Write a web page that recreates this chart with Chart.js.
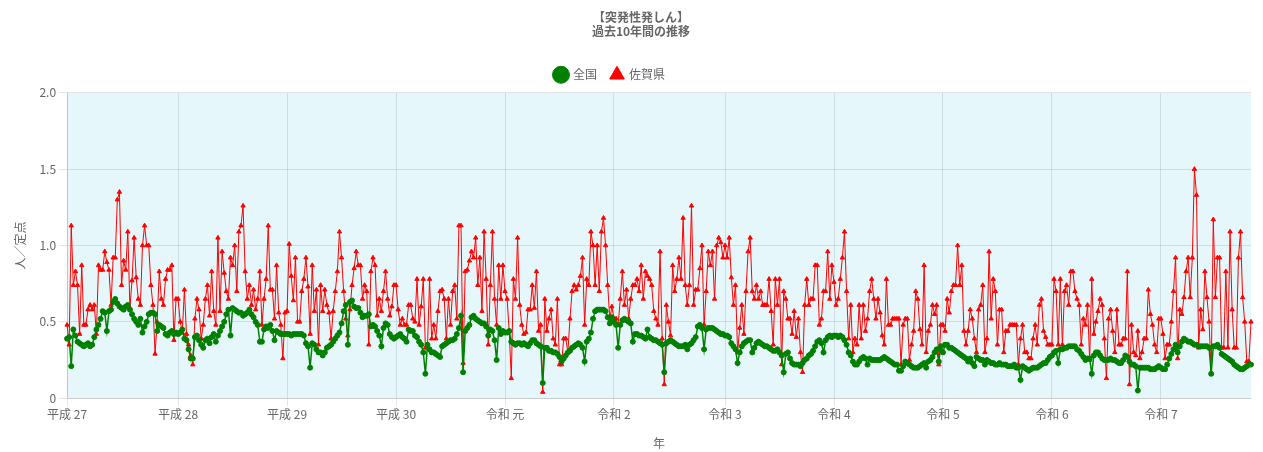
<!DOCTYPE html>
<html lang="ja">
<head>
<meta charset="utf-8">
<title>突発性発しん 過去10年間の推移</title>
<script src="https://cdn.jsdelivr.net/npm/chart.js@4.4.1/dist/chart.umd.min.js"></script>
<style>
  html, body { margin: 0; padding: 0; background: #fff; }
  #wrap { width: 1263px; height: 452px; position: relative; }
</style>
</head>
<body>
<div id="wrap"><canvas id="chart"></canvas></div>
<script>
// 年（x軸の目盛り）と各年の週数
const yearLabels = ['平成 27', '平成 28', '平成 29', '平成 30', '令和 元', '令和 2', '令和 3', '令和 4', '令和 5', '令和 6', '令和 7'];
const weeksPerYear = [53, 52, 52, 52, 52, 53, 52, 52, 52, 52, 44];
const yTicks = [0, 0.5, 1.0, 1.5, 2.0];

// 全国（定点当たり報告数）年ごと
const zenkokuByYear = [
  [0.39,0.40,0.21,0.45,0.41,0.37,0.36,0.35,0.34,0.35,0.36,0.34,0.35,0.40,0.45,0.48,0.52,0.57,0.56,0.44,0.57,0.58,0.63,0.65,0.62,0.60,0.59,0.58,0.60,0.61,0.58,0.55,0.52,0.50,0.48,0.52,0.43,0.47,0.50,0.55,0.56,0.56,0.55,0.44,0.48,0.47,0.46,0.42,0.41,0.43,0.44,0.42,0.43],
  [0.42,0.43,0.45,0.39,0.38,0.32,0.26,0.26,0.40,0.41,0.38,0.35,0.33,0.38,0.39,0.36,0.40,0.42,0.37,0.41,0.44,0.47,0.50,0.55,0.58,0.41,0.59,0.58,0.57,0.56,0.56,0.54,0.55,0.56,0.58,0.55,0.53,0.50,0.48,0.37,0.37,0.45,0.47,0.46,0.48,0.44,0.38,0.44,0.43,0.42,0.42,0.42],
  [0.42,0.42,0.41,0.42,0.42,0.42,0.42,0.42,0.41,0.36,0.34,0.20,0.36,0.35,0.32,0.30,0.30,0.28,0.30,0.33,0.34,0.35,0.37,0.39,0.41,0.43,0.49,0.57,0.61,0.35,0.63,0.64,0.60,0.59,0.59,0.56,0.53,0.54,0.54,0.55,0.47,0.48,0.47,0.44,0.41,0.34,0.46,0.49,0.48,0.42,0.40,0.39],
  [0.40,0.41,0.42,0.40,0.39,0.37,0.45,0.44,0.44,0.41,0.40,0.37,0.35,0.30,0.16,0.35,0.32,0.30,0.30,0.29,0.28,0.27,0.34,0.35,0.36,0.37,0.38,0.38,0.39,0.42,0.46,0.54,0.17,0.44,0.46,0.48,0.53,0.54,0.52,0.51,0.50,0.49,0.49,0.47,0.41,0.45,0.44,0.38,0.25,0.46,0.42,0.44],
  [0.43,0.43,0.44,0.37,0.36,0.35,0.36,0.36,0.35,0.36,0.35,0.34,0.36,0.38,0.38,0.36,0.35,0.34,0.10,0.33,0.33,0.31,0.31,0.30,0.30,0.29,0.27,0.24,0.26,0.28,0.30,0.31,0.33,0.34,0.35,0.36,0.35,0.33,0.24,0.37,0.39,0.43,0.52,0.57,0.58,0.58,0.58,0.58,0.57,0.53,0.49,0.53],
  [0.50,0.48,0.33,0.48,0.51,0.52,0.51,0.50,0.49,0.37,0.42,0.42,0.41,0.41,0.40,0.39,0.45,0.40,0.39,0.38,0.38,0.37,0.36,0.35,0.17,0.36,0.37,0.38,0.37,0.36,0.35,0.34,0.34,0.34,0.35,0.32,0.35,0.36,0.38,0.40,0.47,0.48,0.46,0.32,0.45,0.46,0.46,0.46,0.45,0.44,0.43,0.42,0.42],
  [0.41,0.41,0.40,0.36,0.34,0.32,0.23,0.30,0.34,0.36,0.37,0.38,0.38,0.30,0.33,0.36,0.37,0.36,0.35,0.34,0.34,0.33,0.32,0.31,0.31,0.32,0.30,0.28,0.17,0.29,0.30,0.26,0.23,0.22,0.22,0.22,0.21,0.23,0.25,0.26,0.28,0.29,0.31,0.34,0.37,0.38,0.36,0.30,0.38,0.40,0.41,0.40],
  [0.41,0.41,0.40,0.41,0.40,0.38,0.35,0.30,0.28,0.24,0.22,0.22,0.24,0.26,0.27,0.26,0.22,0.26,0.25,0.25,0.25,0.25,0.25,0.26,0.27,0.26,0.25,0.24,0.23,0.22,0.22,0.18,0.18,0.21,0.24,0.23,0.22,0.21,0.20,0.20,0.20,0.21,0.22,0.23,0.20,0.24,0.25,0.27,0.30,0.32,0.24,0.34],
  [0.30,0.35,0.35,0.33,0.33,0.32,0.31,0.30,0.29,0.28,0.27,0.26,0.24,0.26,0.23,0.21,0.27,0.26,0.25,0.25,0.22,0.25,0.24,0.23,0.23,0.22,0.22,0.23,0.22,0.22,0.22,0.21,0.21,0.21,0.22,0.20,0.20,0.12,0.21,0.20,0.19,0.18,0.19,0.20,0.20,0.20,0.21,0.22,0.23,0.23,0.25,0.27],
  [0.28,0.30,0.31,0.23,0.32,0.32,0.33,0.33,0.34,0.34,0.34,0.34,0.32,0.31,0.29,0.27,0.25,0.26,0.26,0.16,0.28,0.30,0.30,0.28,0.26,0.25,0.25,0.25,0.26,0.25,0.25,0.24,0.23,0.23,0.25,0.28,0.27,0.24,0.22,0.22,0.21,0.05,0.20,0.20,0.20,0.20,0.20,0.19,0.19,0.19,0.20,0.21],
  [0.20,0.19,0.19,0.22,0.26,0.29,0.32,0.35,0.30,0.34,0.37,0.39,0.38,0.37,0.37,0.36,0.35,0.35,0.34,0.34,0.34,0.34,0.34,0.33,0.16,0.34,0.34,0.35,0.33,0.29,0.28,0.27,0.26,0.25,0.24,0.22,0.21,0.20,0.19,0.19,0.20,0.21,0.22,0.22]
];

// 佐賀県（定点当たり報告数）年ごと
const sagaByYear = [
  [0.48,0.35,1.13,0.74,0.83,0.74,0.42,0.87,0.48,0.48,0.58,0.61,0.58,0.61,0.42,0.87,0.84,0.84,0.96,0.89,0.84,0.61,0.92,0.92,1.30,1.35,0.74,0.90,0.84,1.09,0.59,0.77,1.05,0.79,0.65,0.61,1.00,1.13,1.00,1.00,0.74,0.61,0.29,0.50,0.83,0.65,0.61,0.78,0.84,0.84,0.87,0.38,0.65],
  [0.65,0.50,0.43,0.71,0.42,0.35,0.28,0.22,0.52,0.65,0.58,0.39,0.48,0.65,0.74,0.54,0.83,0.57,0.48,1.05,0.57,0.96,0.82,0.70,0.65,0.92,0.87,1.00,0.70,1.09,1.13,1.26,0.83,0.65,0.74,0.61,0.71,0.58,0.65,0.83,0.48,0.65,0.78,1.13,0.71,0.71,0.52,0.87,0.56,0.48,0.26,0.56],
  [0.57,1.01,0.80,0.64,0.92,0.50,0.50,0.70,0.78,0.92,0.73,0.42,0.87,0.57,0.71,0.35,0.74,0.57,0.71,0.61,0.56,0.39,0.57,0.70,0.83,1.09,0.92,0.70,0.52,0.41,0.58,0.74,0.85,0.96,0.87,0.87,0.65,0.74,0.70,0.35,0.83,0.92,0.87,0.54,0.65,0.57,0.70,0.83,0.65,0.54,0.60,0.74],
  [0.74,0.58,0.48,0.52,0.48,0.48,0.61,0.61,0.52,0.50,0.78,0.48,0.60,0.78,0.33,0.33,0.78,0.39,0.48,0.39,0.57,0.70,0.71,0.65,0.39,0.65,0.48,0.70,0.74,0.52,1.13,1.13,0.23,0.83,0.84,0.90,0.96,0.92,1.05,0.74,0.92,0.57,1.09,0.78,0.35,0.74,1.09,0.65,0.48,0.87,0.65,0.87],
  [0.70,0.65,0.44,0.13,0.78,0.65,1.05,0.61,0.48,0.42,0.43,0.58,0.58,0.74,0.59,0.83,0.44,0.48,0.04,0.65,0.44,0.52,0.58,0.39,0.35,0.65,0.22,0.22,0.39,0.39,0.30,0.52,0.70,0.74,0.71,0.74,0.80,0.92,0.48,0.78,0.74,1.09,1.00,0.74,1.00,0.70,1.09,1.18,1.00,0.74,0.52,0.60],
  [0.52,0.52,0.48,0.65,0.83,0.61,0.71,0.52,0.65,0.74,0.74,0.78,0.70,0.87,0.65,0.83,0.80,0.78,0.74,0.57,0.52,0.48,0.96,0.39,0.09,0.61,0.50,0.41,0.87,0.70,0.78,0.92,0.78,1.18,0.74,0.61,0.74,1.26,0.61,0.71,0.71,0.85,1.00,0.48,0.70,0.96,0.87,0.96,0.65,1.00,1.05,1.02,0.92],
  [1.00,0.92,1.05,0.79,0.61,0.74,0.30,0.46,0.61,0.42,0.70,0.96,1.05,0.70,0.65,0.74,0.65,0.70,0.61,0.61,0.61,0.78,0.57,0.35,0.78,0.61,0.78,0.22,0.70,0.65,0.52,0.52,0.42,0.57,0.40,0.52,0.30,0.17,0.61,0.78,0.61,0.65,0.65,0.87,0.87,0.48,0.52,0.70,0.70,0.96,0.65,0.87],
  [0.76,0.61,0.65,0.78,0.92,1.09,0.70,0.39,0.61,0.30,0.39,0.35,0.61,0.39,0.61,0.44,0.52,0.70,0.78,0.65,0.52,0.65,0.56,0.41,0.35,0.78,0.48,0.48,0.52,0.52,0.52,0.52,0.22,0.48,0.52,0.52,0.25,0.35,0.44,0.70,0.65,0.45,0.35,0.87,0.30,0.44,0.48,0.61,0.55,0.61,0.22,0.48],
  [0.48,0.44,0.65,0.56,0.70,0.74,0.74,1.00,0.74,0.87,0.44,0.35,0.44,0.58,0.52,0.39,0.30,0.58,0.61,0.74,0.30,0.39,0.96,0.52,0.78,0.70,0.35,0.58,0.58,0.30,0.44,0.44,0.48,0.48,0.48,0.48,0.22,0.39,0.48,0.30,0.30,0.26,0.26,0.39,0.48,0.35,0.61,0.65,0.44,0.40,0.35,0.35],
  [0.35,0.78,0.70,0.35,0.78,0.35,0.70,0.74,0.61,0.83,0.83,0.70,0.65,0.61,0.35,0.52,0.48,0.61,0.25,0.78,0.42,0.50,0.57,0.65,0.61,0.39,0.13,0.52,0.58,0.44,0.30,0.58,0.35,0.35,0.39,0.39,0.83,0.09,0.48,0.30,0.28,0.44,0.26,0.30,0.39,0.39,0.71,0.55,0.48,0.35,0.30,0.52],
  [0.52,0.42,0.26,0.35,0.35,0.50,0.70,0.92,0.26,0.58,0.55,0.66,0.83,0.92,0.66,0.92,1.50,1.33,0.33,0.58,0.45,0.83,0.66,0.50,0.16,1.17,0.66,0.92,0.92,0.33,0.33,0.83,0.33,1.09,0.58,0.33,0.33,0.92,1.09,0.66,0.50,0.24,0.24,0.50]
];

const plotBg = '#e6f7fb';
const gridColor = 'rgba(0, 0, 0, 0.1)';

// 週ごとのラベル（年の最初の週だけ目盛りに年を出す）
const labels = [];
const tickText = [];
yearLabels.forEach((y, i) => {
  for (let w = 1; w <= weeksPerYear[i]; w++) {
    labels.push(y + ' 第' + w + '週');
    tickText.push(w === 1 ? y : '');
  }
});
const zenkoku = zenkokuByYear.flat();
const saga = sagaByYear.flat();

const plotBackground = {
  id: 'plotBackground',
  beforeDraw(chart) {
    const { ctx, chartArea } = chart;
    ctx.save();
    ctx.fillStyle = plotBg;
    ctx.fillRect(chartArea.left, chartArea.top, chartArea.right - chartArea.left, chartArea.bottom - chartArea.top);
    ctx.restore();
  }
};

// タイトルと凡例の位置を元の図に合わせる
const headerShift = {
  id: 'headerShift',
  beforeLayout(chart) {
    const legend = chart.legend;
    if (legend && !legend._extraGap) {
      const fit = legend.fit.bind(legend);
      legend.fit = () => { fit(); legend.height += 2; };
      legend._extraGap = true;
    }
  },
  afterLayout(chart) {
    if (chart.titleBlock) { chart.titleBlock.left += 11; chart.titleBlock.right += 11; }
    if (chart.legend) { chart.legend.left -= 20; chart.legend.right -= 20; }
  }
};

Chart.defaults.font.family = "'Noto Sans CJK JP', 'Noto Sans', sans-serif";
Chart.defaults.font.size = 12;
Chart.defaults.color = '#666';

const ctx = document.getElementById('chart').getContext('2d');
new Chart(ctx, {
  type: 'line',
  data: {
    labels,
    datasets: [
      {
        label: '全国',
        data: zenkoku,
        borderColor: 'green',
        backgroundColor: 'green',
        borderWidth: 1.5,
        pointStyle: 'circle',
        pointRadius: 2.5,
        pointBorderWidth: 1,
        tension: 0
      },
      {
        label: '佐賀県',
        data: saga,
        borderColor: 'red',
        backgroundColor: 'red',
        borderWidth: 1,
        pointStyle: 'triangle',
        pointRadius: 2.5,
        pointBorderWidth: 1,
        tension: 0
      }
    ]
  },
  options: {
    responsive: true,
    maintainAspectRatio: false,
    animation: false,
    layout: { padding: { left: 9, right: 12, top: 0, bottom: 0 } },
    plugins: {
      title: {
        display: true,
        text: ['【突発性発しん】', '過去10年間の推移'],
        color: '#666',
        font: { size: 12, weight: 'bold' },
        padding: { top: 10, bottom: 16 }
      },
      legend: {
        labels: { usePointStyle: true, color: '#666', font: { size: 12 }, padding: 14 }
      },
      tooltip: { enabled: false }
    },
    scales: {
      x: {
        title: { display: true, text: '年', padding: { top: 14, bottom: 1 } },
        grid: {
          color: (c) => (c.index !== undefined && tickText[c.index] ? gridColor : 'transparent')
        },
        ticks: {
          autoSkip: false,
          maxRotation: 0,
          minRotation: 0,
          padding: 1,
          callback: (v, i) => tickText[i]
        }
      },
      y: {
        min: 0,
        max: 2.0,
        title: { display: true, text: '人／定点', padding: { top: 4, bottom: 9 } },
        grid: { color: gridColor },
        afterBuildTicks: (axis) => { axis.ticks = yTicks.map(v => ({ value: v })); },
        ticks: {
          callback: (v) => (v === 0 ? '0' : v.toFixed(1))
        }
      }
    }
  },
  plugins: [plotBackground, headerShift]
});
</script>
</body>
</html>
